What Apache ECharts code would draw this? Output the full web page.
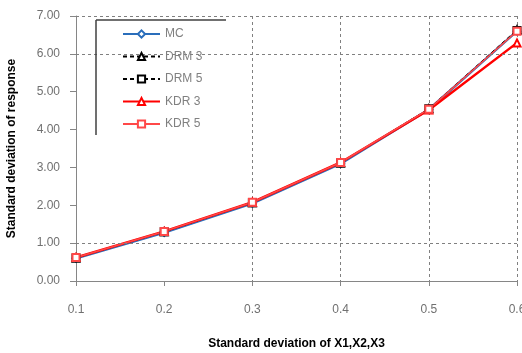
<!DOCTYPE html>
<html>
<head>
<meta charset="utf-8">
<script src="https://cdn.jsdelivr.net/npm/echarts@6/dist/echarts.min.js"></script>
<style>
html,body{margin:0;padding:0;background:#fff;}
#chart{width:522px;height:353px;}
</style>
</head>
<body>
<div id="chart"></div>
<script>
var categories = ['0.1', '0.2', '0.3', '0.4', '0.5', '0.6'];
var mc   = [0.60, 1.28, 2.05, 3.10, 4.53, 6.60];
var drm3 = [0.61, 1.30, 2.07, 3.12, 4.55, 6.64];
var drm5 = [0.61, 1.30, 2.07, 3.12, 4.55, 6.62];
var kdr3 = [0.62, 1.31, 2.08, 3.13, 4.52, 6.29];
var kdr5 = [0.62, 1.31, 2.08, 3.13, 4.54, 6.60];
var hGridValues = [1, 6, 7];
var yMin = 0, yMax = 7, yStep = 1;

var FONT = 'Liberation Sans';
var chart = echarts.init(document.getElementById('chart'), null, {renderer: 'canvas'});

function lineSeries(name, data, color, width, dashed, symbol, extra) {
  var s = {
    name: name,
    type: 'line',
    data: data,
    symbol: symbol,
    symbolSize: 7,
    showAllSymbol: true,
    lineStyle: {color: color, width: width, type: dashed ? [4, 3] : 'solid'},
    itemStyle: {color: color, borderColor: color, borderWidth: 1.5},
    emphasis: {disabled: true},
    animation: false
  };
  if (extra) Object.assign(s, extra);
  return s;
}

var option = {
  backgroundColor: '#ffffff',
  animation: false,
  grid: {left: 76, right: 5, top: 16, bottom: 72, containLabel: false, outerBoundsMode: 'none'},
  legend: {
    orient: 'vertical',
    left: 122,
    top: 28,
    padding: 0,
    itemWidth: 37,
    itemHeight: 9,
    itemGap: 10.5,
    z: 10,
    textStyle: {color: '#808080', fontFamily: FONT, fontSize: 12},
    data: ['MC', 'DRM 3', 'DRM 5', 'KDR 3', 'KDR 5']
  },
  xAxis: {
    type: 'category',
    data: categories,
    boundaryGap: false,
    name: 'Standard deviation of X1,X2,X3',
    nameLocation: 'middle',
    nameGap: 57,
    nameTextStyle: {color: '#000', fontFamily: FONT, fontSize: 12, fontWeight: 'bold'},
    axisLine: {show: true, lineStyle: {color: '#868686', width: 1}},
    axisTick: {show: true, alignWithLabel: true, length: 5, lineStyle: {color: '#868686'}},
    axisLabel: {color: '#707070', fontFamily: FONT, fontSize: 12, margin: 23},
    splitLine: {
      show: true,
      interval: function (index) { return index >= 2; },
      lineStyle: {color: '#808080', type: [3, 3], width: 1}
    }
  },
  yAxis: {
    type: 'value',
    min: yMin,
    max: yMax,
    interval: yStep,
    name: 'Standard deviation of response',
    nameLocation: 'middle',
    nameGap: 58,
    nameTextStyle: {color: '#000', fontFamily: FONT, fontSize: 12, fontWeight: 'bold'},
    axisLine: {show: true, lineStyle: {color: '#868686', width: 1}},
    axisTick: {show: true, length: 6, lineStyle: {color: '#868686'}},
    axisLabel: {color: '#707070', fontFamily: FONT, fontSize: 12, margin: 16,
      formatter: function (v) { return v.toFixed(2); }},
    splitLine: {show: false}
  },
  graphic: [
    {type: 'rect', z: 5, shape: {x: 96, y: 20, width: 130, height: 115}, style: {fill: '#ffffff'}},
    {type: 'line', z: 6, shape: {x1: 96, y1: 20, x2: 226, y2: 20}, style: {stroke: '#404040', lineWidth: 1.5}},
    {type: 'line', z: 6, shape: {x1: 96, y1: 20, x2: 96, y2: 135}, style: {stroke: '#404040', lineWidth: 1.5}}
  ],
  series: [
    lineSeries('MC', mc, '#2a6ebb', 2.5, false, 'emptyDiamond', {
      markLine: {
        silent: true,
        symbol: ['none', 'none'],
        label: {show: false},
        lineStyle: {color: '#808080', type: [3, 3], width: 1},
        data: hGridValues.map(function (v) { return {yAxis: v}; }),
        animation: false
      }
    }),
    lineSeries('DRM 3', drm3, '#000000', 1, true, 'emptyTriangle'),
    lineSeries('DRM 5', drm5, '#000000', 1, true, 'emptyRect'),
    lineSeries('KDR 3', kdr3, '#ff0000', 2.5, false, 'emptyTriangle'),
    lineSeries('KDR 5', kdr5, '#ff4848', 1.5, false, 'emptyRect')
  ]
};
chart.setOption(option);
</script>
</body>
</html>
